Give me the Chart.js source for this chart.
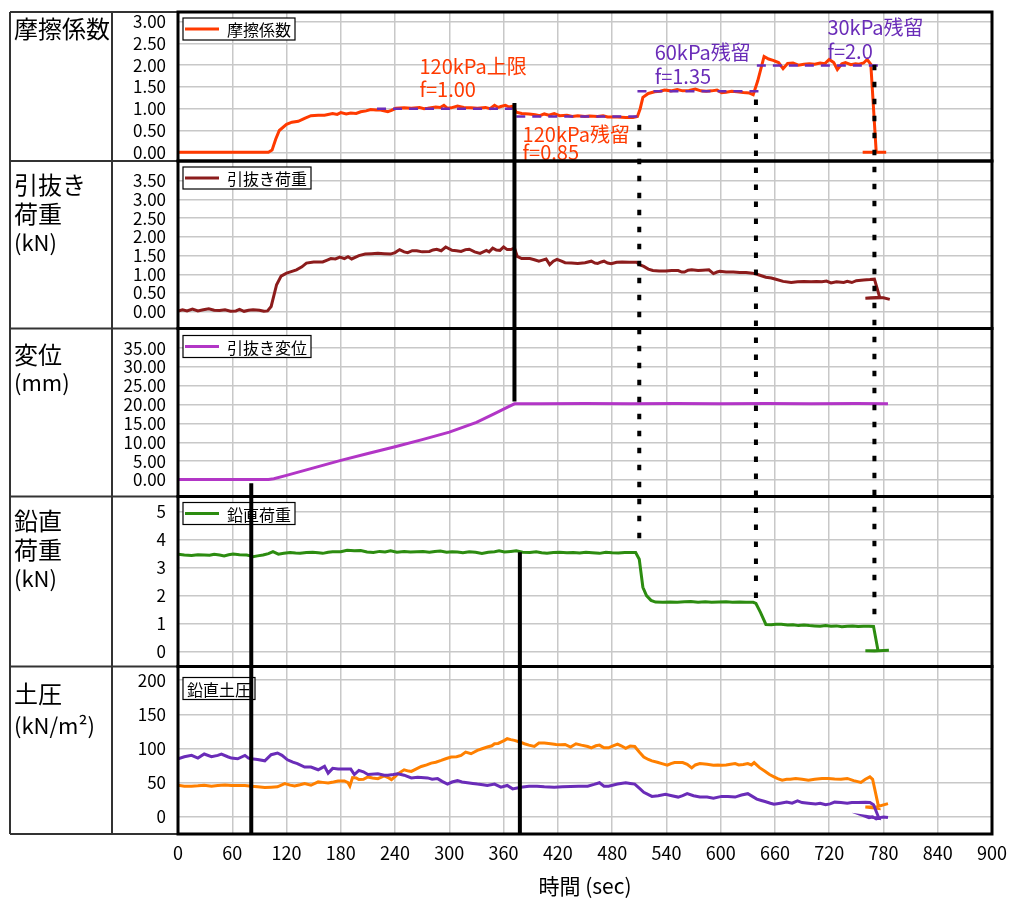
<!DOCTYPE html>
<html lang="ja">
<head>
<meta charset="utf-8">
<title>引抜き試験 摩擦係数</title>
<script src="https://cdn.jsdelivr.net/npm/chart.js@4.4.0/dist/chart.umd.min.js"></script>
<style>
  html, body { margin: 0; padding: 0; background: #ffffff; }
  #wrap { position: relative; width: 1012px; height: 900px; }
</style>
</head>
<body>
<div id="wrap"><canvas id="testChart" width="1012" height="900"></canvas></div>
<script>
// ---- data: [time (sec), value] ----
const timeTicks = [0, 60, 120, 180, 240, 300, 360, 420, 480, 540, 600, 660, 720, 780, 840, 900];

const frictionTicks = [0, 0.5, 1, 1.5, 2, 2.5, 3];
const pullTicks = [0, 0.5, 1, 1.5, 2, 2.5, 3, 3.5];
const dispTicks = [0, 5, 10, 15, 20, 25, 30, 35];
const verticalTicks = [0, 1, 2, 3, 4, 5];
const soilTicks = [0, 50, 100, 150, 200];

const frictionSeries = [[0,0],[100,0],[104,0.05],[108,0.3],[112,0.5],[120,0.64],[126,0.69],[133,0.71],[140,0.78],[147,0.84],[155,0.85],[162,0.85],[171,0.89],[176,0.87],[180,0.91],[186,0.88],[191,0.9],[197,0.89],[202,0.93],[208,0.95],[213,0.98],[219,0.97],[224,0.97],[232,0.93],[236,0.96],[241,1.01],[250,1.02],[258,1.01],[267,1.03],[272,1.0],[276,1.01],[285,1.04],[290,1.03],[294,1.08],[298,1.01],[302,1.02],[309,1.06],[316,1.03],[324,1.02],[331,1.01],[340,1.03],[345,1.0],[350,1.08],[354,1.03],[357,1.05],[362,1.08],[366,1.04],[370,1.06],[374,0.92],[380,0.89],[388,0.88],[395,0.86],[400,0.84],[405,0.88],[410,0.85],[416,0.89],[422,0.84],[430,0.85],[436,0.82],[442,0.84],[450,0.82],[455,0.83],[464,0.82],[470,0.84],[475,0.81],[486,0.81],[495,0.8],[503,0.8],[508,0.82],[511,1.0],[514,1.26],[520,1.35],[527,1.39],[533,1.4],[538,1.43],[545,1.41],[552,1.44],[558,1.41],[565,1.42],[572,1.45],[578,1.41],[584,1.4],[590,1.41],[596,1.43],[601,1.37],[606,1.38],[612,1.4],[618,1.39],[625,1.37],[632,1.36],[636,1.32],[641,1.64],[648,2.2],[653,2.14],[658,2.11],[664,2.06],[669,1.92],[674,2.04],[680,2.05],[686,2.0],[692,2.02],[698,2.03],[704,2.02],[710,2.05],[715,2.03],[720,2.13],[725,2.06],[729,1.9],[734,2.03],[738,2.06],[744,2.01],[749,2.03],[753,2.02],[758,2.05],[762,2.13],[766,2.02],[772,0],[757,0],[783,0]];

const pullSeries = [[0,0.02],[5,0.05],[10,0.02],[16,0.07],[22,0.02],[28,0.05],[34,0.08],[40,0.04],[46,0.03],[52,0.05],[58,0.01],[64,0.02],[68,0.06],[73,0.01],[78,0.04],[83,0.05],[90,0.04],[95,0.01],[99,0.02],[103,0.14],[109,0.72],[114,0.95],[120,1.03],[126,1.08],[131,1.12],[137,1.2],[142,1.3],[150,1.33],[160,1.33],[165,1.38],[169,1.42],[174,1.41],[179,1.46],[184,1.42],[188,1.47],[192,1.41],[200,1.5],[207,1.54],[214,1.55],[221,1.56],[228,1.55],[235,1.54],[240,1.58],[245,1.66],[250,1.6],[254,1.58],[259,1.63],[264,1.63],[270,1.6],[278,1.61],[282,1.65],[286,1.67],[291,1.63],[296,1.73],[303,1.64],[308,1.63],[313,1.61],[318,1.66],[322,1.67],[328,1.6],[334,1.56],[341,1.64],[344,1.6],[348,1.7],[352,1.65],[356,1.64],[360,1.73],[364,1.66],[368,1.66],[372,1.7],[375,1.48],[380,1.42],[389,1.42],[394,1.39],[399,1.35],[403,1.38],[407,1.41],[411,1.26],[415,1.35],[419,1.4],[424,1.35],[428,1.31],[435,1.3],[442,1.29],[450,1.31],[457,1.35],[461,1.3],[464,1.29],[468,1.33],[471,1.35],[475,1.3],[479,1.28],[485,1.32],[491,1.33],[499,1.32],[507,1.32],[511,1.25],[515,1.21],[520,1.14],[525,1.1],[532,1.09],[539,1.09],[546,1.1],[553,1.1],[557,1.06],[560,1.06],[564,1.11],[568,1.12],[575,1.1],[580,1.11],[587,1.12],[592,1.02],[596,1.06],[599,1.08],[606,1.06],[614,1.06],[621,1.05],[628,1.05],[635,1.03],[640,1.0],[645,0.96],[650,0.92],[656,0.9],[662,0.86],[669,0.81],[678,0.78],[685,0.8],[692,0.81],[700,0.8],[706,0.81],[712,0.8],[717,0.82],[722,0.77],[728,0.8],[736,0.78],[740,0.81],[745,0.78],[750,0.83],[758,0.85],[765,0.86],[770,0.87],[776,0.37],[760,0.36],[766,0.37],[772,0.38],[780,0.37],[787,0.33]];

const dispSeries = [[0,0.1],[50,0.1],[100,0.1],[106,0.3],[120,1.2],[150,3.2],[180,5.2],[210,7.0],[240,8.8],[270,10.7],[300,12.7],[330,15.3],[350,17.6],[365,19.4],[372,20.2],[400,20.2],[450,20.3],[500,20.2],[550,20.3],[600,20.2],[650,20.3],[700,20.2],[750,20.3],[785,20.2]];

const verticalSeries = [[0,3.48],[7,3.45],[15,3.43],[22,3.46],[29,3.45],[35,3.44],[40,3.48],[46,3.45],[51,3.42],[56,3.46],[61,3.49],[68,3.46],[76,3.45],[80,3.42],[83,3.39],[88,3.42],[94,3.45],[100,3.5],[105,3.57],[111,3.48],[117,3.51],[124,3.54],[130,3.52],[135,3.51],[142,3.54],[149,3.55],[155,3.53],[160,3.51],[166,3.55],[171,3.57],[180,3.57],[187,3.62],[195,3.6],[202,3.61],[209,3.56],[216,3.54],[223,3.58],[229,3.56],[235,3.6],[242,3.55],[250,3.58],[257,3.56],[264,3.57],[271,3.58],[278,3.55],[284,3.58],[290,3.59],[297,3.55],[303,3.57],[309,3.56],[315,3.53],[322,3.57],[329,3.55],[336,3.51],[343,3.55],[350,3.57],[355,3.6],[361,3.56],[368,3.58],[374,3.6],[381,3.55],[389,3.54],[396,3.57],[402,3.53],[408,3.51],[415,3.54],[422,3.55],[430,3.53],[437,3.54],[444,3.52],[451,3.55],[458,3.53],[466,3.51],[473,3.55],[480,3.53],[487,3.52],[494,3.54],[500,3.54],[506,3.54],[510,3.3],[514,2.3],[518,2.0],[523,1.83],[528,1.77],[536,1.76],[544,1.77],[552,1.76],[560,1.78],[567,1.79],[575,1.76],[583,1.78],[590,1.76],[598,1.77],[606,1.78],[613,1.76],[621,1.77],[628,1.76],[636,1.76],[639,1.72],[644,1.4],[650,0.97],[656,0.96],[661,0.98],[667,0.98],[674,0.95],[680,0.96],[686,0.93],[692,0.95],[698,0.93],[704,0.92],[710,0.91],[716,0.93],[722,0.91],[728,0.92],[734,0.89],[740,0.91],[746,0.92],[752,0.9],[758,0.91],[764,0.91],[769,0.9],[774,0.03],[760,0.03],[770,0.02],[780,0.04],[786,0.05]];

const soilPurpleSeries = [[0,85],[7,88],[15,90],[22,86],[29,92],[37,88],[44,90],[48,92],[55,88],[59,86],[66,85],[74,90],[78,86],[81,85],[88,84],[96,82],[103,91],[110,93.5],[115,90],[121,83.5],[127,80],[132,78],[140,73],[147,73],[155,69],[162,74],[166,64],[171,71],[177,70],[184,70],[191,70],[195,62],[200,68],[205,66],[210,62],[221,63],[228,61],[232,61],[238,62],[243,63],[250,61],[258,57],[265,58],[276,57],[281,55],[287,56],[292,52],[298,48],[303,51],[309,53],[314,51],[320,50],[326,49],[331,48],[337,47],[342,46],[350,48],[357,43.5],[364,46],[370,41],[379,43.5],[388,45],[397,45],[405,44],[416,43.5],[425,44],[434,44.5],[443,45],[453,45],[460,47.5],[466,50],[471,45],[476,45],[486,48],[495,50],[500,49],[505,48],[510,42],[515,36],[524,30],[531,31],[539,33],[546,31],[553,29],[558,31],[563,34],[570,31],[577,29],[585,29],[592,27.5],[601,30],[608,30],[616,29],[623,32],[630,34],[635,30],[640,26],[645,24],[649,22.5],[655,20],[659,18.6],[666,20],[673,21.6],[679,20],[685,23.5],[690,21],[697,20],[705,19],[710,20],[716,17.7],[721,19],[726,21.6],[733,21],[740,20],[745,21],[752,21],[760,21.6],[765,21],[769,17.7],[775,-2],[760,1],[764,-1],[768,0],[772,-3],[776,-1],[780,0],[785,-1]];

const soilOrangeSeries = [[0,46.3],[7,45],[15,45],[22,45.5],[29,46.3],[37,45],[44,46],[52,46.8],[59,46],[66,45.8],[74,46],[81,45],[88,44],[96,43],[103,43.5],[110,44],[118,48.8],[124,46.5],[129,45.3],[135,47],[140,48.8],[147,46.3],[155,51.2],[160,50.5],[166,49.7],[172,51],[177,52.6],[184,52.6],[188,50],[190,45.3],[193,57.5],[197,57],[200,54.6],[205,55],[210,58.5],[215,57],[221,56],[228,60],[233,57],[236,54.6],[240,59],[243,63],[250,68.9],[255,67],[258,66.5],[263,70],[269,73.8],[275,76],[280,78.7],[285,80],[291,82.6],[296,85],[302,87.5],[308,88],[313,90],[318,94.8],[324,92.4],[331,97.3],[337,100],[342,102.2],[347,104],[350,107],[354,107.5],[357,109.5],[361,112],[364,114.4],[368,113],[372,112],[377,110],[383,107],[388,105],[394,103],[399,108],[405,108],[412,107],[418,106],[423,105.6],[428,106],[434,102.2],[440,107],[446,105],[453,103],[457,101],[462,104],[466,105],[471,101],[476,101],[481,104],[486,106.5],[490,104],[495,100.2],[500,103.6],[505,103],[510,95],[515,87.7],[520,84],[524,82],[530,80],[535,78],[541,75.6],[545,78],[549,79.5],[553,79.5],[558,79.5],[563,77],[568,71.7],[572,76],[577,78],[585,77],[592,75.6],[597,76],[601,75.6],[606,76],[611,77],[616,78],[620,76],[625,76.6],[630,78],[634,76],[637,79.5],[643,72],[649,66.9],[654,62],[659,58.6],[663,56],[668,53.8],[673,55],[677,55],[683,56.3],[690,55],[697,53.8],[704,55],[712,56.3],[719,56],[726,55.3],[733,55],[740,56.3],[747,53],[755,50.4],[760,55],[765,58.6],[768,55],[775,12.2],[760,14.6],[772,14.6],[785,19.5]];

// purple dashed reference levels of the friction coefficient
const refLevel = [1.0, 0.82, 1.40, 1.99];
const refFrom = [220, 374, 508, 640];
const refTo = [370, 510, 648, 776];

// text notes on the friction panel: [text, time, level]
const noteText = ['120kPa上限', 'f=1.00', '120kPa残留', 'f=0.85', '60kPa残留', 'f=1.35', '30kPa残留', 'f=2.0'];
const noteTime = [267, 267, 381, 381, 527, 527, 718, 718];
const noteLevel = [1.97, 1.44, 0.41, 0.0, 2.29, 1.74, 2.86, 2.31];

// vertical event lines: time, start panel/value, end panel/value
const solidMarks = [
  { t: 372, from: ['yF', 1.13], to: ['yD', 20.8] },
  { t: 81, from: ['yD', -0.9], to: ['yS', -25] },
  { t: 378, from: ['yV', 3.55], to: ['yS', -25] }
];
const dottedMarks = [
  { t: 510, from: ['yF', 0.63], to: ['yV', 3.81] },
  { t: 639, from: ['yF', 1.21], to: ['yV', 1.73] },
  { t: 770, from: ['yF', 2.01], to: ['yV', 0.95] }
];

const panelIds = ['yF', 'yP', 'yD', 'yV', 'yS'];
const panelNames = [['摩擦係数'], ['引抜き', '荷重', '(kN)'], ['変位', '(mm)'], ['鉛直', '荷重', '(kN)'], ['土圧', '(kN/m²)']];
const legendText = ['摩擦係数', '引抜き荷重', '引抜き変位', '鉛直荷重', '鉛直土圧'];

const colors = {
    friction: '#ff3a00',
    pull: '#8c1c1c',
    disp: '#b236c6',
    vertical: '#2c8c10',
    soilPurple: '#6a2cb8',
    soilOrange: '#ff8000',
    note: '#6a2cb8',
    grid: '#c8c8c8'
};
const legendColor = [colors.friction, colors.pull, colors.disp, colors.vertical, null];
const noteColor = [colors.friction, colors.friction, colors.friction, colors.friction, colors.note, colors.note, colors.note, colors.note];

const FONT = '"Noto Sans CJK JP", "Noto Sans", sans-serif';
Chart.defaults.font.family = FONT;
Chart.defaults.color = '#000';

function toPoints(series) {
    return series.map(([t, v]) => ({ x: t, y: v }));
}

function lineSet(label, series, axis, color, order) {
    return {
        label: label,
        data: toPoints(series),
        yAxisID: axis,
        borderColor: color,
        backgroundColor: color,
        borderWidth: 3,
        pointRadius: 0,
        tension: 0,
        fill: false,
        order: order
    };
}

function panelAxis(min, max, ticks, decimals, weight) {
    return {
        type: 'linear',
        position: 'left',
        stack: 'panels',
        stackWeight: weight,
        min: min,
        max: max,
        afterBuildTicks: scale => { scale.ticks = ticks.map(v => ({ value: v })); },
        afterFit: scale => { scale.width = 66; scale.paddingTop = 0; scale.paddingBottom = 0; },
        ticks: {
            autoSkip: false,
            padding: 12,
            color: '#000',
            font: { size: 17 },
            callback: v => v.toFixed(decimals)
        },
        grid: { color: colors.grid, lineWidth: 1.5, drawTicks: false },
        border: { display: false }
    };
}

const datasets = [
    lineSet('摩擦係数', frictionSeries, 'yF', colors.friction, 2),
    lineSet('引抜き荷重', pullSeries, 'yP', colors.pull, 2),
    lineSet('引抜き変位', dispSeries, 'yD', colors.disp, 2),
    lineSet('鉛直荷重', verticalSeries, 'yV', colors.vertical, 2),
    lineSet('鉛直土圧 1', soilPurpleSeries, 'yS', colors.soilPurple, 2),
    lineSet('鉛直土圧 2', soilOrangeSeries, 'yS', colors.soilOrange, 3)
];
refLevel.forEach((level, i) => {
    const ref = lineSet('ref' + i, [[refFrom[i], level], [refTo[i], level]], 'yF', colors.note, 1);
    ref.borderWidth = 2.5;
    ref.borderDash = [9, 7];
    datasets.push(ref);
});

function drawMark(ctx, chart, mark) {
    const x = chart.scales.x.getPixelForValue(mark.t);
    const y0 = chart.scales[mark.from[0]].getPixelForValue(mark.from[1]);
    const y1 = chart.scales[mark.to[0]].getPixelForValue(mark.to[1]);
    ctx.beginPath();
    ctx.moveTo(x, y0);
    ctx.lineTo(x, y1);
    ctx.stroke();
}

const overlayPlugin = {
    id: 'overlay',
    afterDatasetsDraw(chart) {
        const ctx = chart.ctx;
        const area = chart.chartArea;
        const xScale = chart.scales.x;
        ctx.save();

        // legend boxes
        const legendDrop = [6, 6, 7, 6, 11];
        ctx.font = '16px ' + FONT;
        ctx.textBaseline = 'middle';
        ctx.textAlign = 'left';
        panelIds.forEach((id, i) => {
            const s = chart.scales[id];
            const left = area.left + 5;
            const top = s.top + legendDrop[i];
            const sample = legendColor[i] ? 40 : 0;
            const w = sample + ctx.measureText(legendText[i]).width + 8;
            const h = 22;
            ctx.fillStyle = '#ffffff';
            ctx.fillRect(left, top, w, h);
            ctx.lineWidth = 1.2;
            ctx.strokeStyle = '#000';
            ctx.strokeRect(left, top, w, h);
            if (legendColor[i]) {
                ctx.strokeStyle = legendColor[i];
                ctx.lineWidth = 3;
                ctx.beginPath();
                ctx.moveTo(left + 2, top + h / 2);
                ctx.lineTo(left + 36, top + h / 2);
                ctx.stroke();
            }
            ctx.fillStyle = '#000';
            ctx.fillText(legendText[i], left + sample + 4, top + h / 2 + 1);
        });

        // notes on friction panel
        ctx.font = '20px ' + FONT;
        noteText.forEach((text, i) => {
            ctx.fillStyle = noteColor[i];
            ctx.fillText(text, xScale.getPixelForValue(noteTime[i]), chart.scales.yF.getPixelForValue(noteLevel[i]));
        });

        // event lines
        ctx.strokeStyle = '#000';
        ctx.lineWidth = 4;
        solidMarks.forEach(m => drawMark(ctx, chart, m));
        ctx.setLineDash([5.5, 11.5]);
        dottedMarks.forEach(m => drawMark(ctx, chart, m));
        ctx.restore();
    },
    afterDraw(chart) {
        const ctx = chart.ctx;
        const area = chart.chartArea;
        ctx.save();

        // label column
        const colLeft = 10;
        const colMid = 112;
        ctx.strokeStyle = '#333';
        ctx.lineWidth = 2;
        ctx.beginPath();
        ctx.moveTo(colLeft, area.top);
        ctx.lineTo(colLeft, area.bottom);
        ctx.moveTo(colMid, area.top);
        ctx.lineTo(colMid, area.bottom);
        panelIds.forEach(id => {
            const s = chart.scales[id];
            ctx.moveTo(colLeft, s.top);
            ctx.lineTo(area.left, s.top);
            ctx.moveTo(colLeft, s.bottom);
            ctx.lineTo(area.left, s.bottom);
        });
        ctx.stroke();

        const nameFirst = [17, 24, 26, 24, 27];
        const nameGap = [29, 29, 28, 29, 32];
        ctx.fillStyle = '#000';
        ctx.textAlign = 'left';
        ctx.textBaseline = 'middle';
        panelIds.forEach((id, i) => {
            const s = chart.scales[id];
            panelNames[i].forEach((line, j) => {
                ctx.font = (line.startsWith('(') ? '22px ' : '24px ') + FONT;
                ctx.fillText(line, 14, s.top + nameFirst[i] + j * nameGap[i]);
            });
        });

        // plot frames
        ctx.strokeStyle = '#000';
        ctx.lineWidth = 3;
        panelIds.forEach(id => {
            const s = chart.scales[id];
            ctx.strokeRect(area.left, s.top, area.right - area.left, s.bottom - s.top);
        });
        ctx.restore();
    }
};

const scales = {
    x: {
        type: 'linear',
        position: 'bottom',
        min: 0,
        max: 900,
        afterBuildTicks: scale => { scale.ticks = timeTicks.map(v => ({ value: v })); },
        afterFit: scale => { scale.height = 66; scale.paddingLeft = 0; scale.paddingRight = 0; },
        ticks: { autoSkip: false, maxRotation: 0, padding: 8, color: '#000', font: { size: 18 } },
        grid: { color: colors.grid, lineWidth: 1.5, drawTicks: false },
        border: { display: false },
        title: { display: true, text: '時間 (sec)', color: '#000', font: { size: 21 }, padding: { top: 4, bottom: 1 } }
    },
    // defined bottom-up: the last stacked axis is placed at the top
    yS: panelAxis(-25, 220, soilTicks, 0, 167.5),
    yV: panelAxis(-0.53, 5.54, verticalTicks, 0, 170),
    yD: panelAxis(-4.4, 40.2, dispTicks, 2, 168),
    yP: panelAxis(-0.45, 4.03, pullTicks, 2, 167.5),
    yF: panelAxis(-0.2, 3.22, frictionTicks, 2, 149)
};

new Chart(document.getElementById('testChart'), {
    type: 'line',
    data: { datasets: datasets },
    options: {
        responsive: false,
        animation: false,
        parsing: true,
        layout: { padding: { left: 112, top: 12, right: 20, bottom: 0 } },
        plugins: {
            legend: { display: false },
            tooltip: { enabled: false }
        },
        scales: scales
    },
    plugins: [overlayPlugin]
});
</script>
</body>
</html>
